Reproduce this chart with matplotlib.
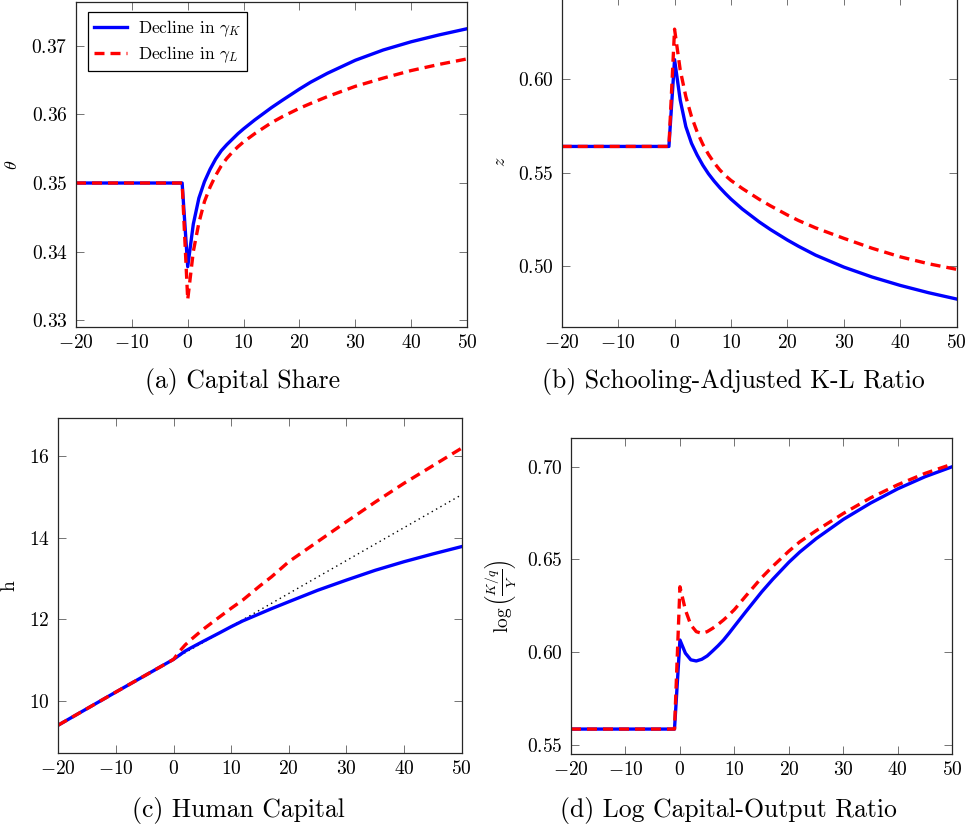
import numpy as np
import matplotlib
matplotlib.use("Agg")
import matplotlib.pyplot as plt
from matplotlib.ticker import FuncFormatter

plt.rcParams['font.family'] = 'serif'
plt.rcParams['font.serif'] = ['cmr10', 'DejaVu Serif']
plt.rcParams['mathtext.fontset'] = 'cm'
plt.rcParams['axes.formatter.use_mathtext'] = True

# years of the simulation
years = [-20, -1, 0, 1, 2, 3, 4, 5, 6, 7, 8, 9, 10, 12, 15, 17, 20, 22, 25, 30, 35, 40, 45, 50]

# (a) capital share
thetaK = [0.35, 0.35, 0.3378, 0.3440, 0.3478, 0.3502, 0.3520, 0.3535, 0.3547, 0.3556,
          0.3564, 0.3572, 0.3579, 0.3592, 0.3610, 0.3621, 0.3637, 0.3647, 0.3660, 0.3679,
          0.3694, 0.3706, 0.3716, 0.3725]
thetaL = [0.35, 0.35, 0.3330, 0.3400, 0.3442, 0.3473, 0.3494, 0.3511, 0.3525, 0.3536,
          0.3545, 0.3553, 0.3560, 0.3572, 0.3588, 0.3597, 0.3609, 0.3616, 0.3626, 0.3641,
          0.3653, 0.3664, 0.3673, 0.3681]

# (b) schooling-adjusted K-L ratio
zK = [0.564, 0.564, 0.6105, 0.5889, 0.5746, 0.5657, 0.5594, 0.5540, 0.5494, 0.5455,
      0.5420, 0.5388, 0.5358, 0.5305, 0.5236, 0.5195, 0.5139, 0.5105, 0.5058, 0.4994,
      0.4941, 0.4896, 0.4857, 0.4823]
zL = [0.564, 0.564, 0.6268, 0.6050, 0.5907, 0.5800, 0.5718, 0.5652, 0.5598, 0.5553,
      0.5515, 0.5484, 0.5458, 0.5415, 0.5357, 0.5322, 0.5273, 0.5243, 0.5204, 0.5148,
      0.5095, 0.5049, 0.5012, 0.4982]

# (c) human capital
yearsH = [-20, -10, 0, 1, 2, 3, 5, 8, 10, 12, 15, 17, 20, 25, 30, 35, 40, 45, 50]
hK = [9.41, 10.22, 11.02, 11.12, 11.22, 11.30, 11.45, 11.67, 11.82, 11.96, 12.14, 12.26,
      12.43, 12.71, 12.96, 13.20, 13.41, 13.60, 13.78]
hL = [9.41, 10.22, 11.02, 11.21, 11.37, 11.50, 11.74, 12.06, 12.27, 12.47, 12.82, 13.04,
      13.41, 13.90, 14.39, 14.87, 15.33, 15.76, 16.19]
trendYears = [-20, 50]
hTrend = [9.41, 15.05]

# (d) log capital-output ratio
kyK = [0.5586, 0.5586, 0.6066, 0.5995, 0.5959, 0.5953, 0.5962, 0.5980, 0.6007, 0.6035,
       0.6066, 0.6102, 0.6140, 0.6215, 0.6325, 0.6392, 0.6485, 0.6540, 0.6612, 0.6716,
       0.6804, 0.6881, 0.6946, 0.7000]
kyL = [0.5586, 0.5586, 0.6353, 0.6228, 0.6147, 0.6111, 0.6102, 0.6111, 0.6129, 0.6150,
       0.6174, 0.6201, 0.6230, 0.6300, 0.6402, 0.6462, 0.6545, 0.6595, 0.6655, 0.6748,
       0.6832, 0.6903, 0.6964, 0.7014]

W, H = 969, 831
fig = plt.figure(figsize=(W / 100, H / 100), dpi=100)


def box(x0, y0, x1, y1):
    # pixel box -> figure fraction
    return [x0 / W, 1 - y1 / H, (x1 - x0) / W, (y1 - y0) / H]


blueStyle = {'color': '#0000ff', 'lw': 2.4, 'solid_joinstyle': 'round'}
redStyle = {'color': '#ff0000', 'lw': 2.4, 'dashes': (3.0, 1.8)}
tickFont = 14


def style(ax, ylim, yticks, ydec):
    ax.set_xlim(-20, 50)
    ax.set_ylim(*ylim)
    ax.set_xticks([-20, -10, 0, 10, 20, 30, 40, 50])
    ax.set_yticks(yticks)
    ax.xaxis.set_major_formatter(FuncFormatter(lambda v, p: '$%d$' % v))
    ax.yaxis.set_major_formatter(FuncFormatter(lambda v, p: '$%.*f$' % (ydec, v)))
    ax.tick_params(direction='in', length=6, width=0.7, color='0.45', labelsize=tickFont,
                   top=True, right=True)
    ax.tick_params(axis='x', pad=5)
    ax.tick_params(axis='y', pad=6)
    for s in ax.spines.values():
        s.set_linewidth(0.9)
        s.set_color('0.15')


axA = fig.add_axes(box(76, 2, 467, 327))
axA.plot(years, thetaK, label=r'Decline in $\gamma_K$', **blueStyle)
axA.plot(years, thetaL, label=r'Decline in $\gamma_L$', **redStyle)
style(axA, (0.329, 0.3764), [0.33, 0.34, 0.35, 0.36, 0.37], 2)
axA.set_ylabel(r'$\theta$', fontsize=13)
axA.yaxis.set_label_coords(-0.143, 0.5)
leg = axA.legend(loc='upper left', bbox_to_anchor=(0.031, 0.969), fontsize=12.5, fancybox=False,
                 framealpha=1, edgecolor='black', handlelength=1.9, borderpad=0.35,
                 labelspacing=0.35, handletextpad=0.6, borderaxespad=0)
leg.get_frame().set_linewidth(0.9)

axB = fig.add_axes(box(561.7, -3, 956.7, 326.7))
axB.plot(years, zK, **blueStyle)
axB.plot(years, zL, **redStyle)
style(axB, (0.4675, 0.644), [0.50, 0.55, 0.60], 2)
axB.set_ylabel(r'$z$', fontsize=13)
axB.yaxis.set_label_coords(-0.136, 0.5)

axC = fig.add_axes(box(58.3, 418.3, 461.7, 753.3))
axC.plot(trendYears, hTrend, color='black', lw=1.0, dashes=(1, 2.6))
axC.plot(yearsH, hK, **blueStyle)
axC.plot(yearsH, hL, **redStyle)
style(axC, (8.72, 16.92), [10, 12, 14, 16], 0)
axC.set_ylabel('h', fontsize=14)
axC.yaxis.set_label_coords(-0.1, 0.5)

axD = fig.add_axes(box(571, 438.3, 952.3, 754.3))
axD.plot(years, kyK, **blueStyle)
axD.plot(years, kyL, **redStyle)
style(axD, (0.545, 0.7153), [0.55, 0.60, 0.65, 0.70], 2)
axD.set_ylabel(r'$\log\left(\frac{K/q}{Y}\right)$', fontsize=14)
axD.yaxis.set_label_coords(-0.139, 0.5)

captions = [('(a) Capital Share', 243, 381), ('(b) Schooling-Adjusted K-L Ratio', 733, 381),
            ('(c) Human Capital', 238, 810), ('(d) Log Capital-Output Ratio', 728, 810)]
for txt, cx, cy in captions:
    fig.text(cx / W, 1 - cy / H, txt, fontsize=18.5, ha='center', va='center')

fig.savefig('out.png', dpi=100)
